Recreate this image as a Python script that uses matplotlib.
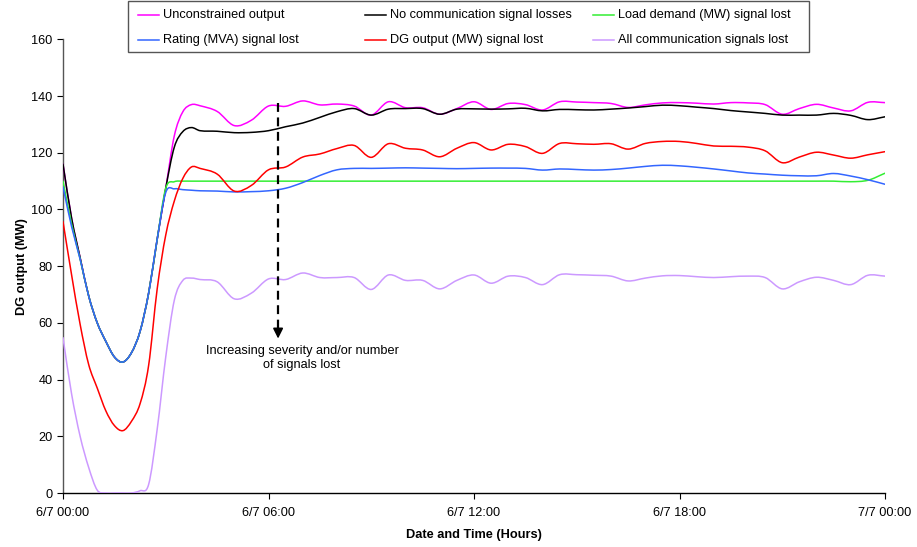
import matplotlib
matplotlib.use("Agg")
import matplotlib.pyplot as plt
from matplotlib.path import Path
from matplotlib.patches import PathPatch, Rectangle
from matplotlib.lines import Line2D

# ---------------- data ----------------
hours = [0, 0.25, 0.5, 0.75, 1.0, 1.25, 1.5, 1.75, 2.0, 2.25, 2.5, 2.75, 3.0, 3.25, 3.5, 3.75, 4.0,
         4.5, 5.0, 5.5, 6.0, 6.5, 7.0, 7.5, 8.0, 8.5, 9.0, 9.5, 10.0, 10.5, 11.0, 11.5, 12.0,
         12.5, 13.0, 13.5, 14.0, 14.5, 15.0, 15.5, 16.0, 16.5, 17.0, 17.5, 18.0, 18.5, 19.0,
         19.5, 20.0, 20.5, 21.0, 21.5, 22.0, 22.5, 23.0, 23.5, 24.0]

unconstrained = [116, 97, 83, 69.5, 60, 53.5, 48, 46.2, 49.5, 57, 70.5, 89.5, 107.5, 126, 134.5, 137, 136.6,
                 134.6, 129.6, 131.5, 136.5, 136.4, 138.3, 136.9, 137.2, 136.5, 133.3, 138, 135.9, 135.9, 133.6, 135.6, 138,
                 135.3, 137.4, 137, 135.1, 138, 137.9, 137.7, 137.4, 136, 136.9, 137.6, 137.7, 137.5, 137.2,
                 137.7, 137.6, 137, 133.6, 135.6, 137.1, 135.8, 134.8, 137.8, 137.7]

no_comm_loss = [116, 97, 83, 69.5, 60, 53.5, 48, 46.2, 49.5, 57, 70.5, 89.5, 107.5, 122, 127.5, 128.9, 127.8,
                127.6, 127.1, 127.2, 127.8, 129.2, 130.5, 132.5, 134.5, 135.6, 133.3, 135.4, 135.6, 135.6, 133.6, 135.4, 135.5,
                135.4, 135.5, 135.7, 134.8, 135.3, 135.2, 135.1, 135.4, 135.8, 136.3, 136.8, 136.6, 136.1, 135.6,
                134.9, 134.4, 133.9, 133.3, 133.3, 133.3, 133.9, 133.2, 131.7, 132.7]

load_demand_lost = [110, 95, 82.5, 69.5, 60, 53.5, 48, 46.2, 49.5, 57, 70.5, 89.5, 107.5, 109.8, 110, 110, 110,
                    110, 110, 110, 110, 110, 110, 110, 110, 110, 110, 110, 110, 110, 110, 110, 110,
                    110, 110, 110, 110, 110, 110, 110, 110, 110, 110, 110, 110, 110, 110,
                    110, 110, 110, 110, 110, 110, 110, 109.8, 110.3, 112.8]

rating_lost = [108, 94, 82.5, 69.5, 60, 53.5, 48, 46.2, 49.5, 57, 70.5, 89.5, 106, 107.3, 107, 106.8, 106.6,
               106.5, 106.2, 106.3, 106.6, 107.5, 109.5, 112, 114, 114.5, 114.5, 114.6, 114.7, 114.6, 114.5, 114.4, 114.5,
               114.6, 114.6, 114.5, 113.9, 114.3, 114.1, 113.9, 114.1, 114.6, 115.2, 115.6, 115.4, 114.9, 114.3,
               113.6, 112.9, 112.5, 112.1, 111.9, 111.9, 112.7, 111.8, 110.5, 108.9]

dg_output_lost = [95.7, 77, 59.5, 45.3, 37, 29, 23.8, 22, 25.3, 31.5, 45, 72, 91, 103, 111, 115, 114.5,
                  112.5, 106.5, 108.5, 114, 115, 118.5, 119.6, 121.5, 122.6, 118.4, 123.2, 121.6, 121, 118.6, 121.6, 123.6,
                  121, 123, 122.2, 119.8, 123.3, 123.2, 123, 123.2, 121.3, 123.3, 124, 124, 123.3, 122.4,
                  122.3, 122, 120.7, 116.5, 118.5, 120.2, 119.2, 118.1, 119.3, 120.4]

all_lost = [54.8, 35, 20, 9, 1, 0, 0, 0, 0, 0.8, 3, 22.5, 48, 68, 75, 75.8, 75.3,
            74.5, 68.5, 70.5, 75.5, 75.3, 77.6, 76, 76, 76, 71.8, 76.9, 75, 75, 72, 75, 76.9,
            74, 76.5, 76, 73.5, 77, 77, 76.8, 76.5, 74.8, 75.8, 76.6, 76.7, 76.3, 76,
            76.3, 76.5, 76, 72, 74.5, 76.1, 75, 73.5, 76.8, 76.5]

series_labels = ["Unconstrained output", "No communication signal losses", "Load demand (MW) signal lost",
                 "Rating (MVA) signal lost", "DG output (MW) signal lost", "All communication signals lost"]
series_colors = ["#FF00FF", "#000000", "#33EE33", "#3366FF", "#FF0000", "#CC99FF"]

x_ticks = [0, 6, 12, 18, 24]
x_tick_labels = ["6/7 00:00", "6/7 06:00", "6/7 12:00", "6/7 18:00", "7/7 00:00"]
y_ticks = [0, 20, 40, 60, 80, 100, 120, 140, 160]

# ---------------- style ----------------
plt.rcParams["font.family"] = ["Liberation Sans", "DejaVu Sans"]
FS = 9.2

W, H = 917, 547
fig = plt.figure(figsize=(W / 100, H / 100), dpi=100)
ax = fig.add_axes([63 / W, 1 - 493 / H, (885 - 63) / W, (493 - 39.4) / H])


def smooth_line(ax, x, y, color, lw, z):
    """Smoothed line (like spreadsheet 'smoothed line') drawn as cubic Bezier through the data points."""
    n = len(x)
    m = []
    for i in range(n):
        if i == 0:
            m.append((y[1] - y[0]) / (x[1] - x[0]))
        elif i == n - 1:
            m.append((y[-1] - y[-2]) / (x[-1] - x[-2]))
        else:
            m.append((y[i + 1] - y[i - 1]) / (x[i + 1] - x[i - 1]))
    verts = [(x[0], y[0])]
    codes = [Path.MOVETO]
    for i in range(n - 1):
        dx = x[i + 1] - x[i]
        verts += [(x[i] + dx / 3, y[i] + m[i] * dx / 3),
                  (x[i + 1] - dx / 3, y[i + 1] - m[i + 1] * dx / 3),
                  (x[i + 1], y[i + 1])]
        codes += [Path.CURVE4] * 3
    patch = PathPatch(Path(verts, codes), fill=False, edgecolor=color, lw=lw, zorder=z,
                      capstyle="round", joinstyle="round")
    ax.add_patch(patch)


lw = 1.1
all_series = [unconstrained, no_comm_loss, load_demand_lost, rating_lost, dg_output_lost, all_lost]
zorders = [3.0, 3.1, 3.2, 3.3, 3.4, 3.5]
for ys, c, z in zip(all_series, series_colors, zorders):
    smooth_line(ax, hours, ys, c, lw, z)

ax.set_xlim(0, 24)
ax.set_ylim(0, 160)
ax.set_xticks(x_ticks)
ax.set_xticklabels(x_tick_labels)
ax.set_yticks(y_ticks)
ax.tick_params(axis="both", direction="out", length=4, width=0.8, colors="#000000", labelsize=FS)
ax.tick_params(axis="x", pad=6)
for s in ["top", "right"]:
    ax.spines[s].set_visible(False)
ax.spines["left"].set_color("#555555")
ax.spines["bottom"].set_color("#000000")
ax.spines["left"].set_linewidth(1.0)
ax.spines["bottom"].set_linewidth(1.0)

ax.set_xlabel("Date and Time (Hours)", fontweight="bold", fontsize=FS, labelpad=7)
ax.set_ylabel("DG output (MW)", fontweight="bold", fontsize=FS, labelpad=2)

# dashed arrow annotation
ax.plot([6.28, 6.28], [137.5, 58], color="black", lw=1.6, ls=(0, (4, 2.5)), zorder=5)
ax.annotate("", xy=(6.28, 53.5), xytext=(6.28, 59),
            arrowprops=dict(arrowstyle="-|>,head_length=0.6,head_width=0.3", color="black", lw=1.2),
            zorder=5)
ax.text(6.98, 52.3, "Increasing severity and/or number\nof signals lost", ha="center", va="top",
        fontsize=FS, multialignment="center", linespacing=1.25)

# legend (three equal-width columns, two rows)
box = Rectangle((127.5 / W, 1 - 52 / H), (808.5 - 127.5) / W, (52 - 1.5) / H, transform=fig.transFigure,
                facecolor="white", edgecolor="#555555", lw=1.0, zorder=10)
fig.patches.append(box)
col_x = [138, 365, 593]
row_y = [15, 40]
order = [(0, 0), (1, 0), (2, 0), (0, 1), (1, 1), (2, 1)]
for (ci, ri), lab, c in zip(order, series_labels, series_colors):
    x0 = col_x[ci]
    y0 = 1 - row_y[ri] / H
    fig.add_artist(Line2D([x0 / W, (x0 + 21) / W], [y0, y0], transform=fig.transFigure,
                          color=c, lw=1.1, zorder=11))
    fig.text((x0 + 25) / W, y0, lab, ha="left", va="center", fontsize=FS, zorder=12)

fig.savefig("out.png", dpi=100)
